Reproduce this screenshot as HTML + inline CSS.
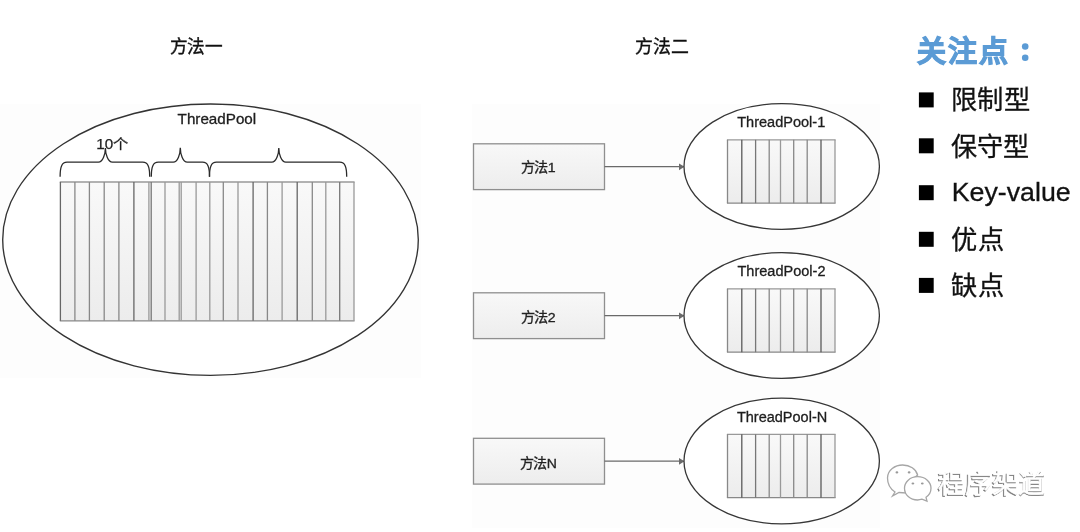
<!DOCTYPE html>
<html lang="zh-CN"><head><meta charset="utf-8">
<style>
html,body{margin:0;padding:0;background:#fff;}
body{width:1080px;height:532px;overflow:hidden;position:relative;font-family:"Liberation Sans",sans-serif;}
svg{position:absolute;left:0;top:0;will-change:transform;}
text{font-family:"Liberation Sans",sans-serif;}
</style></head><body>
<svg width="1080" height="532" viewBox="0 0 1080 532">
<defs>
<linearGradient id="bg" x1="0" y1="0" x2="0" y2="1"><stop offset="0" stop-color="#f9f9f9"/><stop offset="1" stop-color="#ececec"/></linearGradient>
<linearGradient id="bg2" x1="0" y1="0" x2="0" y2="1"><stop offset="0" stop-color="#f8f8f8"/><stop offset="1" stop-color="#ededed"/></linearGradient>
</defs>
<rect x="0" y="104" width="421" height="274" fill="#fdfdfd"/>
<rect x="472" y="104" width="408" height="424" fill="#fdfdfd"/>
<text x="169.82" y="52.50" textLength="52.88" lengthAdjust="spacingAndGlyphs" style="font-size:18px;font-weight:normal;fill:#111;stroke:#111;stroke-width:0.4px;">方法一</text>
<text x="634.91" y="52.50" textLength="53.69" lengthAdjust="spacingAndGlyphs" style="font-size:18px;font-weight:normal;fill:#111;stroke:#111;stroke-width:0.4px;">方法二</text>
<ellipse cx="210.5" cy="239.7" rx="207.8" ry="135.7" fill="#fff" stroke="#333" stroke-width="1.35"/>
<text x="177.60" y="124.10" textLength="78.58" lengthAdjust="spacingAndGlyphs" style="font-size:14.2px;font-weight:normal;fill:#1e1e1e;stroke:#1e1e1e;stroke-width:0.3px;">ThreadPool</text>
<text x="96.21" y="148.90" textLength="32.11" lengthAdjust="spacingAndGlyphs" style="font-size:14px;font-weight:normal;fill:#1e1e1e;stroke:#1e1e1e;stroke-width:0.25px;">10个</text>
<path d="M60.1,176.8 C60.1,167.2 61.6,162.2 67.1,162.2 L98.4,162.2 C102.9,162.2 105.4,154 105.4,148 C105.4,154 107.9,162.2 112.4,162.2 L142.7,162.2 C148.2,162.2 149.7,167.2 149.7,176.8" fill="none" stroke="#2a2a2a" stroke-width="1.3"/>
<path d="M151.3,176.8 C151.3,167.2 152.8,162.2 158.3,162.2 L173.3,162.2 C177.8,162.2 180.3,153.7 180.3,147.7 C180.3,153.7 182.8,162.2 187.3,162.2 L202.5,162.2 C208.0,162.2 209.5,167.2 209.5,176.8" fill="none" stroke="#2a2a2a" stroke-width="1.3"/>
<path d="M209.5,176.8 C209.5,167.2 211.0,162.2 216.5,162.2 L271.8,162.2 C276.3,162.2 278.8,154 278.8,148 C278.8,154 281.3,162.2 285.8,162.2 L339.7,162.2 C345.2,162.2 346.7,167.2 346.7,176.8" fill="none" stroke="#2a2a2a" stroke-width="1.3"/>
<rect x="60.4" y="182" width="293.60" height="138.80" fill="url(#bg)"/>
<line x1="59.8" y1="182" x2="354.6" y2="182" stroke="#999" stroke-width="1.3"/>
<line x1="59.8" y1="320.8" x2="354.6" y2="320.8" stroke="#888" stroke-width="1.3"/>
<line x1="60.4" y1="182" x2="60.4" y2="320.8" stroke="#666" stroke-width="1.3"/>
<line x1="74.9" y1="182" x2="74.9" y2="320.8" stroke="#888" stroke-width="1.3"/>
<line x1="89.4" y1="182" x2="89.4" y2="320.8" stroke="#888" stroke-width="1.3"/>
<line x1="104.2" y1="182" x2="104.2" y2="320.8" stroke="#888" stroke-width="1.3"/>
<line x1="118.9" y1="182" x2="118.9" y2="320.8" stroke="#888" stroke-width="1.3"/>
<line x1="133.9" y1="182" x2="133.9" y2="320.8" stroke="#666" stroke-width="1.3"/>
<line x1="148.9" y1="182" x2="148.9" y2="320.8" stroke="#999" stroke-width="1.3"/>
<line x1="151.2" y1="182" x2="151.2" y2="320.8" stroke="#777" stroke-width="1.3"/>
<line x1="165" y1="182" x2="165" y2="320.8" stroke="#999" stroke-width="1.3"/>
<line x1="179.2" y1="182" x2="179.2" y2="320.8" stroke="#999" stroke-width="1.3"/>
<line x1="181.2" y1="182" x2="181.2" y2="320.8" stroke="#999" stroke-width="1.3"/>
<line x1="196.1" y1="182" x2="196.1" y2="320.8" stroke="#999" stroke-width="1.3"/>
<line x1="209.8" y1="182" x2="209.8" y2="320.8" stroke="#999" stroke-width="1.3"/>
<line x1="223.3" y1="182" x2="223.3" y2="320.8" stroke="#888" stroke-width="1.3"/>
<line x1="238" y1="182" x2="238" y2="320.8" stroke="#999" stroke-width="1.3"/>
<line x1="253.1" y1="182" x2="253.1" y2="320.8" stroke="#666" stroke-width="1.3"/>
<line x1="267.4" y1="182" x2="267.4" y2="320.8" stroke="#888" stroke-width="1.3"/>
<line x1="282.1" y1="182" x2="282.1" y2="320.8" stroke="#999" stroke-width="1.3"/>
<line x1="297.2" y1="182" x2="297.2" y2="320.8" stroke="#666" stroke-width="1.3"/>
<line x1="312.3" y1="182" x2="312.3" y2="320.8" stroke="#888" stroke-width="1.3"/>
<line x1="325.8" y1="182" x2="325.8" y2="320.8" stroke="#999" stroke-width="1.3"/>
<line x1="339.7" y1="182" x2="339.7" y2="320.8" stroke="#777" stroke-width="1.3"/>
<line x1="354" y1="182" x2="354" y2="320.8" stroke="#999" stroke-width="1.3"/>
<rect x="473.5" y="143.8" width="131" height="45.8" fill="url(#bg2)" stroke="#8f8f8f" stroke-width="1.3"/>
<line x1="604.5" y1="166.7" x2="681" y2="166.7" stroke="#6a6a6a" stroke-width="1.3"/>
<path d="M679,163.4 L684.5,166.7 L679,170.2 Z" fill="#6a6a6a"/>
<text x="520.55" y="171.90" textLength="35.09" lengthAdjust="spacingAndGlyphs" style="font-size:13.5px;font-weight:normal;fill:#222;stroke:#222;stroke-width:0.3px;">方法1</text>
<ellipse cx="781.7" cy="166.5" rx="97.7" ry="62.8" fill="#fff" stroke="#363636" stroke-width="1.3"/>
<text x="737.20" y="126.60" textLength="88.06" lengthAdjust="spacingAndGlyphs" style="font-size:14px;font-weight:normal;fill:#1e1e1e;stroke:#1e1e1e;stroke-width:0.3px;">ThreadPool-1</text>
<rect x="727.5" y="139.8" width="107.50" height="63.40" fill="url(#bg)"/>
<line x1="726.9" y1="139.8" x2="835.6" y2="139.8" stroke="#999" stroke-width="1.3"/>
<line x1="726.9" y1="203.2" x2="835.6" y2="203.2" stroke="#888" stroke-width="1.3"/>
<line x1="727.5" y1="139.8" x2="727.5" y2="203.2" stroke="#888" stroke-width="1.3"/>
<line x1="741.8" y1="139.8" x2="741.8" y2="203.2" stroke="#5a5a5a" stroke-width="1.3"/>
<line x1="755.6" y1="139.8" x2="755.6" y2="203.2" stroke="#777" stroke-width="1.3"/>
<line x1="769.2" y1="139.8" x2="769.2" y2="203.2" stroke="#888" stroke-width="1.3"/>
<line x1="780.5" y1="139.8" x2="780.5" y2="203.2" stroke="#999" stroke-width="1.3"/>
<line x1="793.7" y1="139.8" x2="793.7" y2="203.2" stroke="#888" stroke-width="1.3"/>
<line x1="807.2" y1="139.8" x2="807.2" y2="203.2" stroke="#888" stroke-width="1.3"/>
<line x1="821" y1="139.8" x2="821" y2="203.2" stroke="#5a5a5a" stroke-width="1.3"/>
<line x1="835" y1="139.8" x2="835" y2="203.2" stroke="#999" stroke-width="1.3"/>
<rect x="473.5" y="292.8" width="131" height="45.8" fill="url(#bg2)" stroke="#8f8f8f" stroke-width="1.3"/>
<line x1="604.5" y1="315.7" x2="681" y2="315.7" stroke="#6a6a6a" stroke-width="1.3"/>
<path d="M679,312.4 L684.5,315.7 L679,319.2 Z" fill="#6a6a6a"/>
<text x="520.55" y="321.70" textLength="35.09" lengthAdjust="spacingAndGlyphs" style="font-size:13.5px;font-weight:normal;fill:#222;stroke:#222;stroke-width:0.3px;">方法2</text>
<ellipse cx="781.7" cy="315.5" rx="97.7" ry="62.8" fill="#fff" stroke="#363636" stroke-width="1.3"/>
<text x="737.50" y="275.90" textLength="87.96" lengthAdjust="spacingAndGlyphs" style="font-size:14px;font-weight:normal;fill:#1e1e1e;stroke:#1e1e1e;stroke-width:0.3px;">ThreadPool-2</text>
<rect x="727.5" y="288.8" width="107.50" height="63.40" fill="url(#bg)"/>
<line x1="726.9" y1="288.8" x2="835.6" y2="288.8" stroke="#999" stroke-width="1.3"/>
<line x1="726.9" y1="352.2" x2="835.6" y2="352.2" stroke="#888" stroke-width="1.3"/>
<line x1="727.5" y1="288.8" x2="727.5" y2="352.2" stroke="#888" stroke-width="1.3"/>
<line x1="741.8" y1="288.8" x2="741.8" y2="352.2" stroke="#5a5a5a" stroke-width="1.3"/>
<line x1="755.6" y1="288.8" x2="755.6" y2="352.2" stroke="#777" stroke-width="1.3"/>
<line x1="769.2" y1="288.8" x2="769.2" y2="352.2" stroke="#888" stroke-width="1.3"/>
<line x1="780.5" y1="288.8" x2="780.5" y2="352.2" stroke="#999" stroke-width="1.3"/>
<line x1="793.7" y1="288.8" x2="793.7" y2="352.2" stroke="#888" stroke-width="1.3"/>
<line x1="807.2" y1="288.8" x2="807.2" y2="352.2" stroke="#888" stroke-width="1.3"/>
<line x1="821" y1="288.8" x2="821" y2="352.2" stroke="#5a5a5a" stroke-width="1.3"/>
<line x1="835" y1="288.8" x2="835" y2="352.2" stroke="#999" stroke-width="1.3"/>
<rect x="473.5" y="438.3" width="131" height="45.8" fill="url(#bg2)" stroke="#8f8f8f" stroke-width="1.3"/>
<line x1="604.5" y1="461.2" x2="681" y2="461.2" stroke="#6a6a6a" stroke-width="1.3"/>
<path d="M679,457.9 L684.5,461.2 L679,464.7 Z" fill="#6a6a6a"/>
<text x="519.86" y="467.50" textLength="37.12" lengthAdjust="spacingAndGlyphs" style="font-size:13.5px;font-weight:normal;fill:#222;stroke:#222;stroke-width:0.3px;">方法N</text>
<ellipse cx="781.7" cy="461.0" rx="97.7" ry="62.8" fill="#fff" stroke="#363636" stroke-width="1.3"/>
<text x="736.90" y="421.70" textLength="90.3" lengthAdjust="spacingAndGlyphs" style="font-size:14px;font-weight:normal;fill:#1e1e1e;stroke:#1e1e1e;stroke-width:0.3px;">ThreadPool-N</text>
<rect x="727.5" y="434.3" width="107.50" height="63.40" fill="url(#bg)"/>
<line x1="726.9" y1="434.3" x2="835.6" y2="434.3" stroke="#999" stroke-width="1.3"/>
<line x1="726.9" y1="497.7" x2="835.6" y2="497.7" stroke="#888" stroke-width="1.3"/>
<line x1="727.5" y1="434.3" x2="727.5" y2="497.7" stroke="#888" stroke-width="1.3"/>
<line x1="741.8" y1="434.3" x2="741.8" y2="497.7" stroke="#5a5a5a" stroke-width="1.3"/>
<line x1="755.6" y1="434.3" x2="755.6" y2="497.7" stroke="#777" stroke-width="1.3"/>
<line x1="769.2" y1="434.3" x2="769.2" y2="497.7" stroke="#888" stroke-width="1.3"/>
<line x1="780.5" y1="434.3" x2="780.5" y2="497.7" stroke="#999" stroke-width="1.3"/>
<line x1="793.7" y1="434.3" x2="793.7" y2="497.7" stroke="#888" stroke-width="1.3"/>
<line x1="807.2" y1="434.3" x2="807.2" y2="497.7" stroke="#888" stroke-width="1.3"/>
<line x1="821" y1="434.3" x2="821" y2="497.7" stroke="#5a5a5a" stroke-width="1.3"/>
<line x1="835" y1="434.3" x2="835" y2="497.7" stroke="#999" stroke-width="1.3"/>
<text x="917.20" y="61.50" style="font-size:29px;font-weight:bold;fill:#5b9bd5;stroke:#5b9bd5;stroke-width:1.1px;letter-spacing:1.9px">关注点</text>
<circle cx="1025.2" cy="46.5" r="3.3" fill="#5b9bd5"/>
<circle cx="1025.2" cy="57.7" r="3.3" fill="#5b9bd5"/>
<rect x="918.9" y="92.4" width="14.8" height="15" fill="#000"/>
<rect x="918.9" y="138.3" width="14.8" height="15" fill="#000"/>
<rect x="918.9" y="185.2" width="14.8" height="15" fill="#000"/>
<rect x="918.9" y="231.8" width="14.8" height="15" fill="#000"/>
<rect x="918.9" y="277.9" width="14.8" height="15" fill="#000"/>

<text x="950.88" y="109.00" textLength="78.94" lengthAdjust="spacingAndGlyphs" style="font-size:26px;font-weight:normal;fill:#111;stroke:#111;stroke-width:0.3px;">限制型</text>
<text x="950.99" y="156.30" textLength="78.41" lengthAdjust="spacingAndGlyphs" style="font-size:26px;font-weight:normal;fill:#111;stroke:#111;stroke-width:0.3px;">保守型</text>
<text x="951.74" y="201.20" textLength="118.9" lengthAdjust="spacingAndGlyphs" style="font-size:26px;font-weight:normal;fill:#111;stroke:#111;stroke-width:0.3px;">Key-value</text>
<text x="951.49" y="248.90" textLength="52.62" lengthAdjust="spacingAndGlyphs" style="font-size:26px;font-weight:normal;fill:#111;stroke:#111;stroke-width:0.3px;">优点</text>
<text x="951.49" y="295.20" textLength="52.62" lengthAdjust="spacingAndGlyphs" style="font-size:26px;font-weight:normal;fill:#111;stroke:#111;stroke-width:0.3px;">缺点</text>
<g fill="#fff" stroke="#a6a6a6" stroke-width="1.3" transform="translate(0,1.2)">
<path transform="translate(0,0.8)" d="M895,490 C889,486 887.5,481 887.5,476 C887.5,468 895,463 902.6,463 C910,463 916,467 917.6,473 L912,478 C906,482 905,487 906,491 L899,490.5 L892.5,494 Z"/>
<ellipse cx="896.9" cy="471.2" rx="1.4" ry="1.1" fill="#999" stroke="none"/>
<ellipse cx="909.1" cy="471.2" rx="1.4" ry="1.1" fill="#999" stroke="none"/>
<path d="M917.6,475.5 C925.5,475.5 931,481 931,487 C931,491 929,494 926,496 L927,500 L922,498 C920.5,498.5 919,498.8 917.6,498.8 C910,498.8 904.5,493.5 904.5,487 C904.5,481 910,475.5 917.6,475.5 Z"/>
<ellipse cx="912.9" cy="482.3" rx="1.4" ry="1.1" fill="#999" stroke="none"/>
<ellipse cx="922.3" cy="482.3" rx="1.4" ry="1.1" fill="#999" stroke="none"/>
</g>
<text x="937.37" y="493.50" textLength="106.96" lengthAdjust="spacingAndGlyphs" style="font-size:26px;font-weight:normal;fill:#7a7a7a;stroke:#7a7a7a;stroke-width:0.6px;">程序架道</text>
<text x="938.27" y="492.50" textLength="106.96" lengthAdjust="spacingAndGlyphs" style="font-size:26px;font-weight:normal;fill:#fff;stroke:#fff;stroke-width:0.5px;">程序架道</text>
</svg>
</body></html>
